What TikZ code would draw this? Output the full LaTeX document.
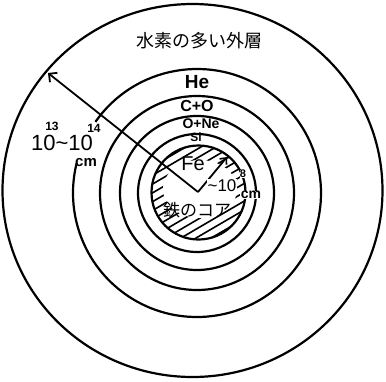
\documentclass[tikz,border=0pt]{standalone}
\usepackage{fontspec}
\setmainfont{Liberation Sans}
\newfontfamily\jpfont{Noto Sans CJK JP}
\usetikzlibrary{arrows.meta}

\tikzset{
  shell/.style={line width=2.2pt},
  hatchline/.style={line width=1.6pt},
  radius arrow/.style={line width=1.8pt,-{Straight Barb[length=6pt,width=12pt,line width=1.8pt]}},
  layer/.style={font=\bfseries\fontsize{#1}{#1}\selectfont,inner sep=0.5pt},
  size/.style={font=\fontsize{#1}{#1}\selectfont,inner sep=0.5pt},
  jp/.style={font=\jpfont\fontsize{#1}{#1}\selectfont,inner sep=0.5pt}
}

\begin{document}
\begin{tikzpicture}[x=1pt,y=-1pt]
\useasboundingbox (0,0) rectangle (386,381);

\coordinate (mid) at (197,193);     % centre of the inner shells
\coordinate (ctr) at (198,192);     % where both radius arrows start

% ============ iron core ============
\begin{scope}
  \clip (198.5,192.5) circle[radius=47];
  \foreach \i in {-8,...,8}
    \draw[hatchline] ({198.5+3.8*\i-60},{192.5+6.6*\i+35}) -- ({198.5+3.8*\i+60},{192.5+6.6*\i-35});
\end{scope}
\fill[white] (200,189) ellipse[x radius=37, y radius=29];   % clear space for labels
\draw[shell] (198.5,192.5) circle[radius=47];

% ============ burning shells ============
\draw[shell] (mid) circle[radius=59];      % Si
\draw[shell] (mid) circle[radius=77];      % O+Ne
\draw[shell] (mid) circle[radius=97];      % C+O
\draw[shell] (mid) ++(-145:124) arc[start angle=-145, end angle=194, radius=124]; % He, gap for label
\draw[shell] (192.5,190.5) ellipse[x radius=190, y radius=186.5];  % hydrogen envelope

% radii
\coordinate (env tip) at (48,73);
\coordinate (core tip) at (227,157);
\draw[radius arrow] (ctr) -- (env tip);
\draw[radius arrow,-{Straight Barb[length=5pt,width=9pt,line width=1.6pt]}] (ctr) -- (core tip);

% ============ labels ============
\node[jp=18] (envelope) at (199,41) {水素の多い外層};
\node[layer=19] (he) at (197,82) {He};
\node[layer=16] (co) at (197,106) {C+O};
\node[layer=14] (one) at (201,124) {O+Ne};
\node[layer=12] (si) at (196,137.5) {Si};
\node[size=20] (fe) at (193,164) {Fe};
\node[jp=17] (core) at (197,210) {鉄のコア};

% core radius
\node[size=17,fill=white] (core r) at (222,186) {\textasciitilde10};
\node[layer=11,fill=white,inner sep=0pt] (core exp) at (243,174) {8};
\node[layer=14,fill=white] (core cm) at (251,195) {cm};

% star radius
\node[size=22] (env r) at (62,143) {10\textasciitilde10};
\node[layer=12,inner sep=0pt] (env exp a) at (52,126) {13};
\node[layer=12,inner sep=0pt] (env exp b) at (94,128) {14};
\node[layer=15,inner sep=0pt] (env cm) at (86,163) {cm};

\end{tikzpicture}
\end{document}
